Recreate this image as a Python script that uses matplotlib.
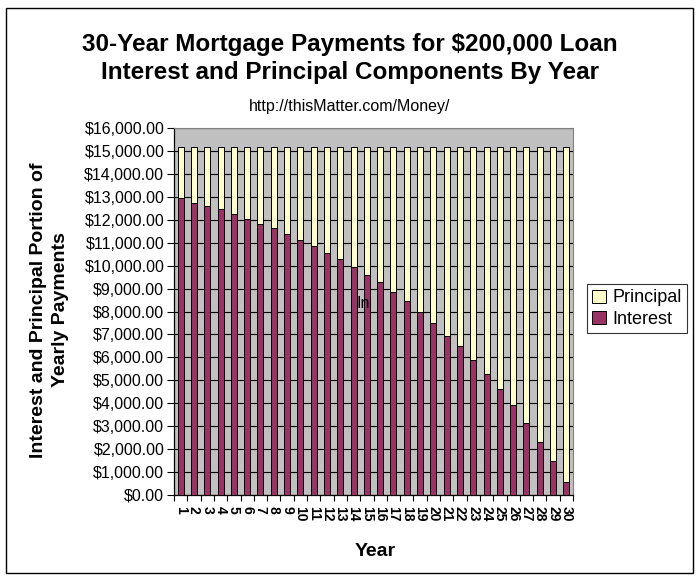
import numpy as np
import matplotlib
matplotlib.use("Agg")
import matplotlib.pyplot as plt
from matplotlib.patches import Rectangle
from matplotlib.ticker import FuncFormatter, MultipleLocator

plt.rcParams['font.family'] = ['Liberation Sans', 'DejaVu Sans']

# Yearly interest and principal
years = list(range(1, 31))
interest = [12930, 12750, 12620, 12450, 12230, 12050, 11830, 11620, 11370, 11100,
            10870, 10570, 10280, 9950, 9610, 9290, 8870, 8440, 8000, 7490,
            6950, 6500, 5900, 5260, 4630, 3910, 3150, 2330, 1470, 560]
principal = [2240, 2420, 2550, 2720, 2940, 3120, 3340, 3550, 3800, 4070,
             4300, 4600, 4890, 5220, 5560, 5880, 6300, 6730, 7170, 7680,
             8220, 8670, 9270, 9910, 10540, 11260, 12020, 12840, 13700, 14610]

W, H = 700, 579
fig = plt.figure(figsize=(W / 100, H / 100), dpi=100)

# outer chart border
fig.patches.append(Rectangle((6 / W, 1 - 573 / H), 687 / W, 565 / H,
                             transform=fig.transFigure, fill=False,
                             edgecolor='black', linewidth=1.0))

ax = fig.add_axes([174 / W, 1 - 495 / H, 399 / W, 367 / H])
ax.set_facecolor('#C0C0C0')

x = np.arange(len(years))
ax.bar(x, interest, width=0.45, color='#993366', edgecolor='black',
       linewidth=0.7, label='Interest', zorder=3)
ax.bar(x, principal, width=0.45, bottom=interest, color='#FFFFCC',
       edgecolor='black', linewidth=0.7, label='Principal', zorder=3)

ax.set_xlim(-0.5, len(years) - 0.5)
ax.set_ylim(0, 16000)
ax.yaxis.set_major_locator(MultipleLocator(1000))
ax.yaxis.set_major_formatter(FuncFormatter(lambda v, p: f"${v:,.2f}"))
ax.grid(axis='y', color='black', linewidth=0.8, zorder=1)

ax.set_xticks(x)
ax.set_xticklabels([str(y) for y in years], rotation=-90, fontsize=10,
                   fontweight='bold')
ax.set_xticks(np.arange(-0.5, len(years)), minor=True)
ax.tick_params(axis='x', which='major', length=0, pad=8)
ax.tick_params(axis='x', which='minor', length=4, direction='out', width=0.8)
ax.tick_params(axis='y', length=5, direction='out', width=0.8, labelsize=11.5, pad=2)

for s in ['top', 'right']:
    ax.spines[s].set_color('#808080')
    ax.spines[s].set_linewidth(0.8)
ax.spines['left'].set_linewidth(0.9)
ax.spines['bottom'].set_linewidth(0.9)

ax.text(13.2, 8330, 'In', fontsize=11.5, va='center', ha='left', zorder=6)

ax.set_xlabel('Year', fontsize=14, fontweight='bold')
ax.xaxis.set_label_coords((375 - 174) / 399, (495 - 543) / 367)
ax.set_ylabel('Interest and Principal Portion of\nYearly Payments', fontsize=14,
              fontweight='bold', linespacing=1.35, va='center')
ax.yaxis.set_label_coords((49.5 - 174) / 399, (495 - 310) / 367)

fig.text(350 / W, 1 - 44 / H, '30-Year Mortgage Payments for $200,000 Loan',
         ha='center', va='center', fontsize=17.5, fontweight='bold')
fig.text(350 / W, 1 - 72 / H, 'Interest and Principal Components By Year',
         ha='center', va='center', fontsize=17.5, fontweight='bold')
fig.text(350 / W, 1 - 107 / H, 'http://thisMatter.com/Money/',
         ha='center', va='center', fontsize=11.5)

handles, labels = ax.get_legend_handles_labels()
leg = fig.legend(handles[::-1], labels[::-1], loc='upper left',
                 bbox_to_anchor=(587 / W, 1 - 284 / H), fontsize=13,
                 frameon=True, fancybox=False, edgecolor='black',
                 handlelength=0.75, handleheight=0.75, handletextpad=0.35,
                 borderpad=0.3, labelspacing=0.25, borderaxespad=0)
leg.get_frame().set_linewidth(0.8)

fig.savefig('out.png', dpi=100)
